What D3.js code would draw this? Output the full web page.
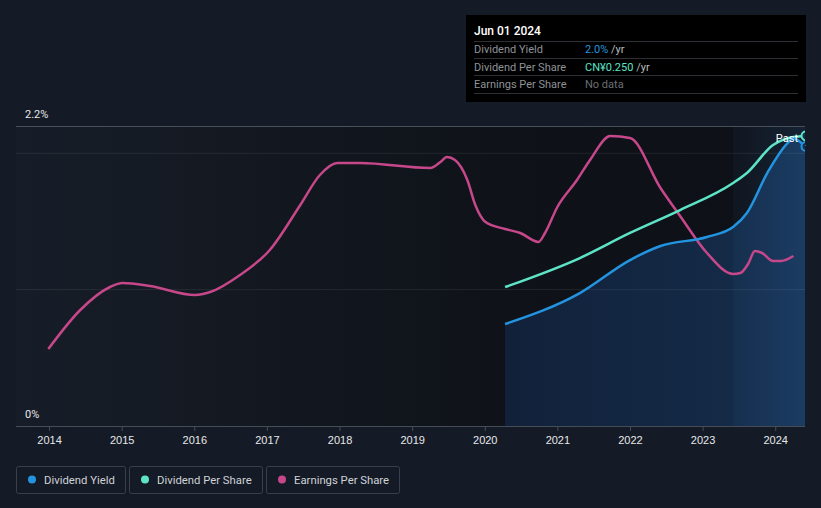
<!DOCTYPE html>
<html><head><meta charset="utf-8">
<script src="https://cdn.jsdelivr.net/npm/d3@7/dist/d3.min.js"></script>
<style>
html,body{margin:0;padding:0;background:#151b26;}
svg{display:block;font-family:Roboto,"Open Sans",sans-serif;}
</style></head>
<body><svg id="c" width="821" height="508"></svg>
<script>
// ---- data ----
const yieldYears = [2020.28, 2021.31, 2022.00, 2022.42, 2023.06, 2023.42, 2023.61, 2023.89, 2024.17, 2024.25, 2024.41];
const yieldValues = [0.748, 0.975, 1.217, 1.320, 1.386, 1.459, 1.562, 1.855, 2.075, 2.110, 2.050];
const dpsYears = [2020.28, 2021.31, 2022.00, 2022.69, 2023.42, 2023.61, 2023.97, 2024.25, 2024.41];
const dpsValues = [0.1202, 0.1453, 0.1670, 0.1868, 0.2102, 0.2189, 0.2431, 0.2500, 0.2509];
const epsYears = [2013.99, 2014.43, 2014.84, 2015.01, 2015.39, 2016.01, 2016.22, 2016.63, 2017.04, 2017.46, 2017.73, 2017.97, 2018.28, 2019.25, 2019.39, 2019.48, 2019.59, 2019.76, 2019.87, 2020.01, 2020.28, 2020.49, 2020.74, 2020.83, 2021.00, 2021.27, 2021.45, 2021.73, 2022.00, 2022.42, 2022.69, 2023.06, 2023.42, 2023.52, 2023.63, 2023.72, 2023.82, 2023.97, 2024.08, 2024.25];
const epsValues = [0.154, 0.232, 0.278, 0.286, 0.280, 0.262, 0.268, 0.302, 0.352, 0.442, 0.502, 0.526, 0.526, 0.516, 0.528, 0.538, 0.532, 0.492, 0.442, 0.408, 0.394, 0.386, 0.368, 0.386, 0.438, 0.492, 0.532, 0.580, 0.576, 0.476, 0.420, 0.346, 0.304, 0.306, 0.325, 0.350, 0.346, 0.330, 0.330, 0.340];
const xTicks = [2014, 2015, 2016, 2017, 2018, 2019, 2020, 2021, 2022, 2023, 2024];
const yGrid = [1.0, 2.0];
const yLabels = ["0%", "2.2%"];
const legendItems = ["Dividend Yield", "Dividend Per Share", "Earnings Per Share"];
const tooltipTitle = "Jun 01 2024";
const tooltipRows = [["Dividend Yield", "2.0%", " /yr"], ["Dividend Per Share", "CN¥0.250", " /yr"], ["Earnings Per Share", "No data", ""]];
const forecastStart = 2023.42;

// ---- scales ----
const C = {yield:"#2394df", dps:"#5de4c7", eps:"#c6478a"};
const svg = d3.select("#c");
const L = 16, R = 805, T = 126, B = 426;
const x = d3.scaleLinear().domain([2013.545, 2024.41]).range([L, R]);
const y = d3.scaleLinear().domain([0, 2.2]).range([B, T]);
const yD = d3.scaleLinear().domain([0, 0.25]).range([B, 137]);
const yE = d3.scaleLinear().domain([0, 0.6]).range([B, T]);

const defs = svg.append("defs");
const bg = defs.append("linearGradient").attr("id","bgG");
bg.append("stop").attr("offset","0").attr("stop-color","#171d28");
bg.append("stop").attr("offset","0.6").attr("stop-color","#0f1319");
bg.append("stop").attr("offset","1").attr("stop-color","#0d1016");
const ar = defs.append("linearGradient").attr("id","arG");
ar.append("stop").attr("offset","0").attr("stop-color","#12213a");
ar.append("stop").attr("offset","1").attr("stop-color","#142d4b");
const fc = defs.append("linearGradient").attr("id","fcG");
fc.append("stop").attr("offset","0").attr("stop-color","#4aa0ff").attr("stop-opacity",0.04);
fc.append("stop").attr("offset","1").attr("stop-color","#4aa0ff").attr("stop-opacity",0.13);

svg.append("rect").attr("x",L).attr("y",T).attr("width",R-L).attr("height",B-T).attr("fill","url(#bgG)");

// area of dividend yield
const yd = yieldYears.map((t,i)=>[t, yieldValues[i]]);
svg.append("path").datum(yd)
  .attr("d", d3.area().x(d=>x(d[0])).y0(B).y1(d=>y(d[1])).curve(d3.curveMonotoneX))
  .attr("fill","url(#arG)");
// forecast region
svg.append("rect").attr("x",x(forecastStart)).attr("y",T).attr("width",R-x(forecastStart)).attr("height",B-T).attr("fill","url(#fcG)");

// gridlines
svg.selectAll(".g").data(yGrid).enter().append("line")
  .attr("x1",L).attr("x2",R).attr("y1",d=>y(d)).attr("y2",d=>y(d))
  .attr("stroke","#ffffff").attr("stroke-opacity",0.08).attr("stroke-width",1);
svg.append("line").attr("x1",L).attr("x2",R).attr("y1",y(2.2)+0.5).attr("y2",y(2.2)+0.5)
  .attr("stroke","#4a505a").attr("stroke-width",1);

// axis
const ax = svg.append("g").attr("transform",`translate(0,${B})`)
  .call(d3.axisBottom(x).tickValues(xTicks).tickFormat(d3.format("d")).tickSize(5).tickPadding(5));
ax.select(".domain").attr("stroke","#474d57").attr("d",`M${L},0.5H${R}`);
ax.selectAll(".tick line").attr("stroke","#474d57");
ax.selectAll(".tick text").attr("fill","#e6e8ea").attr("font-size",11);

svg.append("text").attr("x",25).attr("y",118).attr("fill","#e6e8ea").attr("font-size",11).text(yLabels[1]);
svg.append("text").attr("x",25).attr("y",418).attr("fill","#e6e8ea").attr("font-size",11).text(yLabels[0]);

// lines
const ln = (sy)=>d3.line().x(d=>x(d[0])).y(d=>sy(d[1])).curve(d3.curveMonotoneX);
svg.append("path").datum(epsYears.map((t,i)=>[t,epsValues[i]])).attr("d",ln(yE))
  .attr("fill","none").attr("stroke",C.eps).attr("stroke-width",2.5);
svg.append("path").datum(dpsYears.map((t,i)=>[t,dpsValues[i]])).attr("d",ln(yD))
  .attr("fill","none").attr("stroke",C.dps).attr("stroke-width",2.5);
svg.append("path").datum(yd).attr("d",ln(y))
  .attr("fill","none").attr("stroke",C.yield).attr("stroke-width",2.5);

// end markers
const clip = defs.append("clipPath").attr("id","pc");
clip.append("rect").attr("x",L).attr("y",0).attr("width",R-L).attr("height",B);
const mk = svg.append("g").attr("clip-path","url(#pc)");
mk.append("circle").attr("cx",x(dpsYears[dpsYears.length-1])+1).attr("cy",yD(dpsValues[dpsValues.length-1])).attr("r",4.5)
  .attr("fill","#153150").attr("stroke",C.dps).attr("stroke-width",2);
mk.append("circle").attr("cx",x(yieldYears[yieldYears.length-1])+1).attr("cy",y(yieldValues[yieldValues.length-1])).attr("r",4.5)
  .attr("fill","#153150").attr("stroke",C.yield).attr("stroke-width",2);
svg.append("text").attr("x",798).attr("y",142).attr("text-anchor","end").attr("fill","#ffffff").attr("font-size",11).text("Past");

// legend
let lx = 16;
const colors = [C.yield, C.dps, C.eps];
legendItems.forEach((name,i)=>{
  const g = svg.append("g");
  const t = g.append("text").attr("x",lx+28).attr("y",483.5).attr("fill","#cfd2d6").attr("font-size",11.3).text(name);
  const w = Math.round(t.node().getComputedTextLength() + 38);
  g.insert("rect","text").attr("x",lx+0.5).attr("y",466.5).attr("width",w).attr("height",27).attr("rx",2)
    .attr("fill","none").attr("stroke","#3a404a");
  g.append("circle").attr("cx",lx+16).attr("cy",479.5).attr("r",4).attr("fill",colors[i]);
  lx += w + 4;
});

// tooltip
const tt = svg.append("g");
tt.append("rect").attr("x",466).attr("y",15).attr("width",340).attr("height",87).attr("fill","#000000");
tt.append("text").attr("x",474).attr("y",35).attr("fill","#ffffff").attr("font-size",12).attr("font-weight",500).text(tooltipTitle);
[41,58,75,93].forEach(yy=>tt.append("line").attr("x1",474).attr("x2",798).attr("y1",yy+0.5).attr("y2",yy+0.5).attr("stroke","#2c2f34"));
const valColors = [C.yield, C.dps, "#6b6f75"];
tooltipRows.forEach((r,i)=>{
  const yy = 53 + i*17.5;
  tt.append("text").attr("x",474).attr("y",yy).attr("fill","#8e9297").attr("font-size",11).text(r[0]);
  const t = tt.append("text").attr("x",585).attr("y",yy).attr("font-size",11);
  t.append("tspan").attr("fill",valColors[i]).text(r[1]);
  t.append("tspan").attr("fill","#b8bbbf").text(r[2]);
});
</script></body></html>
